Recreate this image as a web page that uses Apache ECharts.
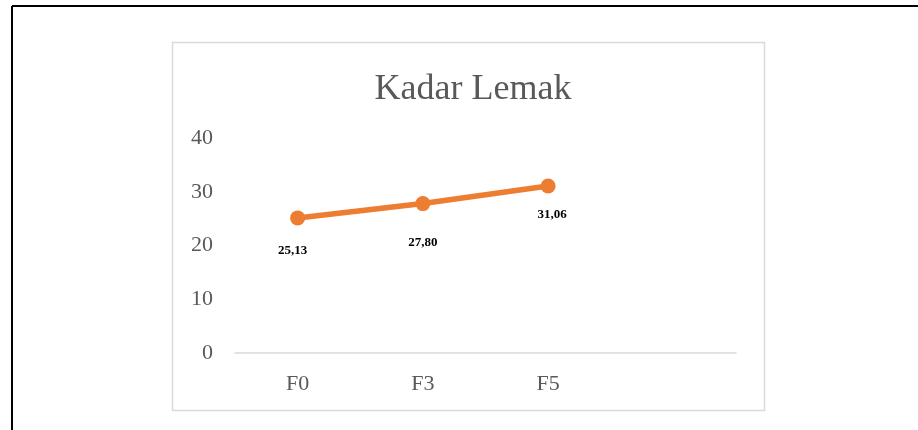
<!DOCTYPE html>
<html>
<head>
<meta charset="utf-8">
<script src="https://cdn.jsdelivr.net/npm/echarts@6/dist/echarts.min.js"></script>
<style>
  html, body { margin: 0; padding: 0; background: #fff; }
  #chart { width: 918px; height: 430px; }
</style>
</head>
<body>
<div id="chart"></div>
<script>
// data
const categories = ["F0", "F3", "F5", ""];
const fatValues = [25.13, 27.8, 31.06];
const valueLabels = ["25,13", "27,80", "31,06"];
const yTicks = [0, 10, 20, 30, 40];

// label placement below each point (labels sit a bit irregularly)
const labelDistance = [19, 25, 15];
const labelShiftX = [-5, 0, 4];

const chart = echarts.init(document.getElementById("chart"));
const serif = "'Liberation Serif', 'Times New Roman', serif";

chart.setOption({
  animation: false,
  backgroundColor: "#fff",
  title: {
    text: "Kadar Lemak",
    left: 468,
    textAlign: "center",
    top: 67,
    textStyle: {
      fontFamily: serif,
      fontWeight: "normal",
      fontSize: 36,
      color: "#595959",
    },
  },
  graphic: [
    // outer black frame (top + left edge)
    { type: "line", shape: { x1: 12, y1: 6, x2: 918, y2: 6 }, style: { stroke: "#000", lineWidth: 2 } },
    { type: "line", shape: { x1: 12, y1: 6, x2: 12, y2: 430 }, style: { stroke: "#000", lineWidth: 2 } },
    // chart area frame
    {
      type: "rect",
      shape: { x: 172.5, y: 42.5, width: 592, height: 368 },
      style: { fill: "none", stroke: "#d9d9d9", lineWidth: 1.5 },
    },
  ],
  grid: {
    left: 235,
    right: 182,
    top: 138,
    bottom: 77,
  },
  xAxis: {
    type: "category",
    data: categories,
    boundaryGap: true,
    axisLine: { lineStyle: { color: "#d9d9d9", width: 1.5 } },
    axisTick: { show: false },
    axisLabel: {
      fontFamily: serif,
      fontSize: 22,
      color: "#595959",
      margin: 20,
    },
  },
  yAxis: {
    type: "value",
    min: yTicks[0],
    max: yTicks[yTicks.length - 1],
    interval: 10,
    axisLine: { show: false },
    axisTick: { show: false },
    splitLine: { show: false },
    axisLabel: {
      fontFamily: serif,
      fontSize: 22,
      color: "#595959",
      margin: 22,
    },
  },
  series: [
    {
      type: "line",
      data: fatValues.map((v, i) => ({
        value: v,
        label: { distance: labelDistance[i], offset: [labelShiftX[i], 0] },
      })),
      symbol: "circle",
      symbolSize: 15,
      lineStyle: { color: "#ed7d31", width: 5.5 },
      itemStyle: { color: "#ed7d31" },
      label: {
        show: true,
        position: "bottom",
        formatter: (p) => valueLabels[p.dataIndex],
        fontFamily: serif,
        fontWeight: "bold",
        fontSize: 13,
        color: "#000",
      },
    },
  ],
});
</script>
</body>
</html>
